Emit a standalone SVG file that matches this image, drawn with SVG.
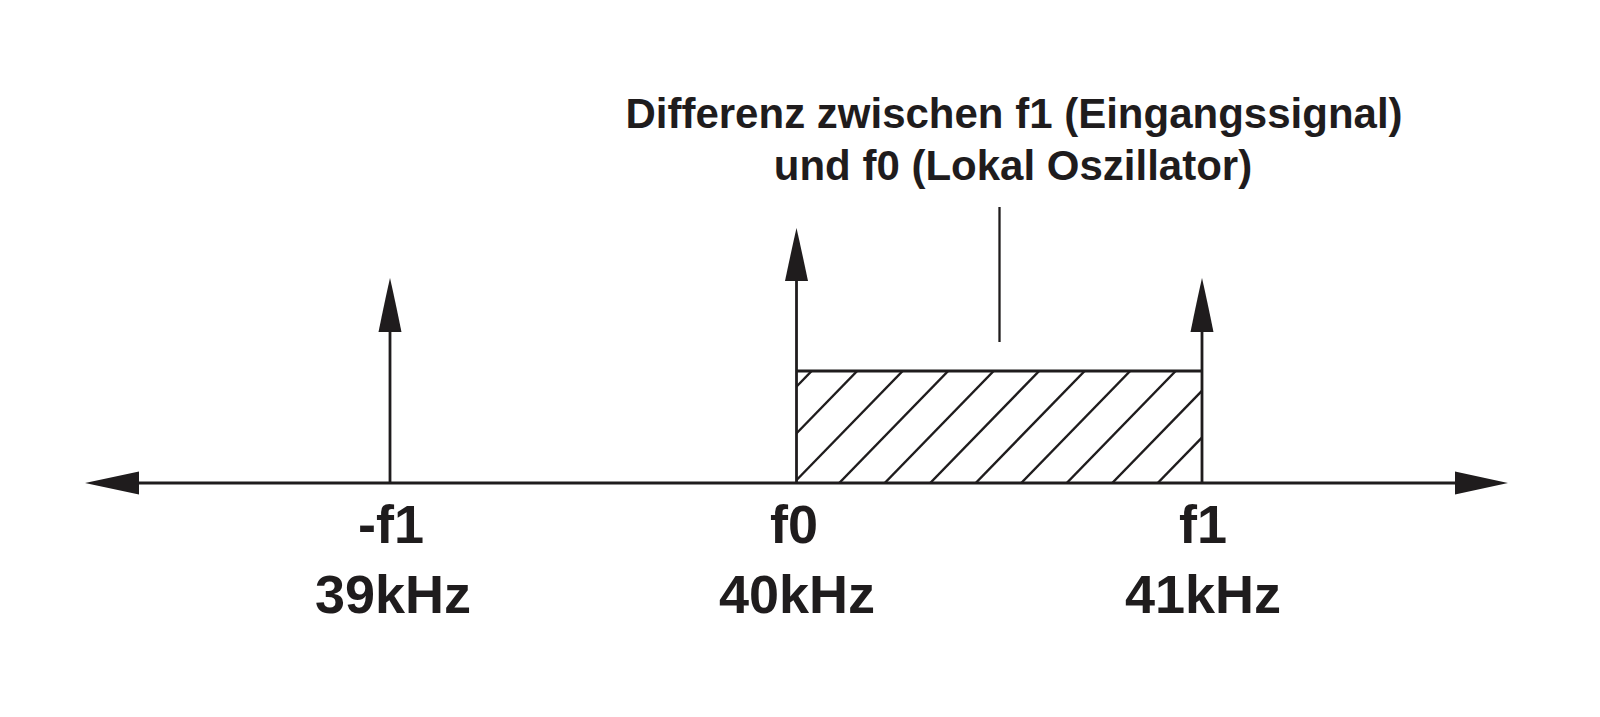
<svg xmlns="http://www.w3.org/2000/svg" width="1600" height="717" viewBox="0 0 1600 717">
  <style>
    .ln { stroke: #1f1c1d; stroke-width: 2.8; fill: none; }
    .hatch { stroke: #1f1c1d; stroke-width: 2.4; fill: none; }
    .head { fill: #1f1c1d; stroke: none; }
    .lbl { font-family: "Liberation Sans", Arial, sans-serif; font-weight: bold; fill: #1f1c1d; text-anchor: middle; }
    .title { font-size: 42px; }
    .big { font-size: 54px; }
  </style>
  <defs>
    <clipPath id="bandClip">
      <rect x="796.5" y="371" width="405.5" height="112"/>
    </clipPath>
  </defs>
  <rect width="1600" height="717" fill="#ffffff"/>

  <g id="connectors">
    <g id="axis">
      <line class="ln" x1="135" y1="483" x2="1458" y2="483"/>
      <polygon class="head" points="85,483 139,471.5 139,494.5"/>
      <polygon class="head" points="1508,483 1455,471.5 1455,494.5"/>
    </g>
    <g id="callout-line">
      <line class="ln" x1="999.5" y1="207" x2="999.5" y2="342" style="stroke-width:2.3"/>
    </g>
  </g>

  <g id="node-minus-f1">
    <line class="ln" x1="390" y1="483" x2="390" y2="328"/>
    <path class="head" d="M390,278 Q395,300 401.5,332 L378.5,332 Q385,300 390,278 Z"/>
    <text class="lbl big" x="391" y="543">-f1</text>
    <text class="lbl big" x="393" y="613">39kHz</text>
  </g>

  <g id="node-f0">
    <line class="ln" x1="796.5" y1="483" x2="796.5" y2="278"/>
    <path class="head" d="M796.5,228 Q801.5,250 808,281 L785,281 Q791.5,250 796.5,228 Z"/>
    <text class="lbl big" x="794" y="543">f0</text>
    <text class="lbl big" x="797" y="613">40kHz</text>
  </g>

  <g id="node-f1">
    <line class="ln" x1="1202" y1="483" x2="1202" y2="328"/>
    <path class="head" d="M1202,278 Q1207,300 1213.5,332 L1190.5,332 Q1197,300 1202,278 Z"/>
    <text class="lbl big" x="1203" y="543">f1</text>
    <text class="lbl big" x="1203" y="613">41kHz</text>
  </g>

  <g id="node-band">
    <line class="ln" x1="796.5" y1="371" x2="1202" y2="371"/>
    <g clip-path="url(#bandClip)">
      <line class="hatch" x1="811.7" y1="371" x2="702.7" y2="483"/>
      <line class="hatch" x1="857.2" y1="371" x2="748.2" y2="483"/>
      <line class="hatch" x1="902.7" y1="371" x2="793.7" y2="483"/>
      <line class="hatch" x1="948.2" y1="371" x2="839.2" y2="483"/>
      <line class="hatch" x1="993.7" y1="371" x2="884.7" y2="483"/>
      <line class="hatch" x1="1039.2" y1="371" x2="930.2" y2="483"/>
      <line class="hatch" x1="1084.7" y1="371" x2="975.7" y2="483"/>
      <line class="hatch" x1="1130.2" y1="371" x2="1021.2" y2="483"/>
      <line class="hatch" x1="1175.7" y1="371" x2="1066.7" y2="483"/>
      <line class="hatch" x1="1221.2" y1="371" x2="1112.2" y2="483"/>
      <line class="hatch" x1="1266.7" y1="371" x2="1157.7" y2="483"/>
    </g>
  </g>

  <g id="node-title">
    <text class="lbl title" x="1014" y="128">Differenz zwischen f1 (Eingangssignal)</text>
    <text class="lbl title" x="1013" y="180">und f0 (Lokal Oszillator)</text>
  </g>
</svg>
